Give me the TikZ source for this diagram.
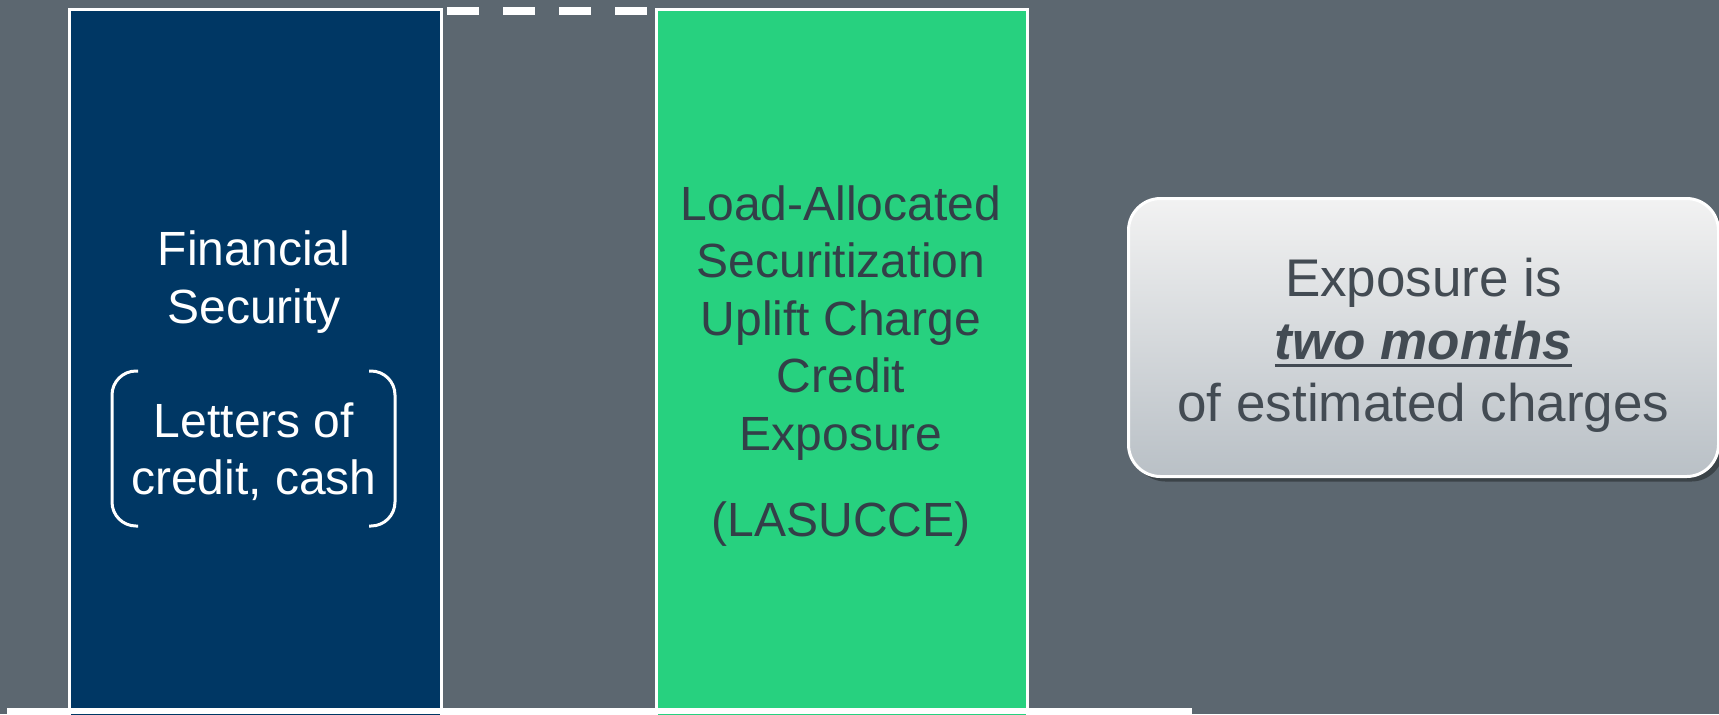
\documentclass[tikz,border=0pt]{standalone}
\usepackage{fontspec}
\setmainfont{Liberation Sans}
\usepackage{tikz}
\usetikzlibrary{positioning,shadows}
\definecolor{slategray}{HTML}{5C6770}
\definecolor{navyblue}{HTML}{003764}
\definecolor{brightgreen}{HTML}{27D17F}
\definecolor{darktext}{HTML}{333F48}
\definecolor{calltext}{HTML}{434B53}
\definecolor{calltop}{HTML}{F2F2F2}
\definecolor{callbottom}{HTML}{B9C0C6}
\newcommand{\thickul}[1]{\setbox0\hbox{#1}%
  \rlap{\raisebox{-4pt}{\rule{\wd0}{1.8pt}}}\box0}

\begin{document}
\begin{tikzpicture}[x=0.5pt,y=-0.5pt,
  column/.style={draw=white,line width=1.5pt,minimum width=186pt,
    minimum height=360pt,anchor=north west,inner sep=0pt},
  bigtext/.style={align=center,font=\fontsize{24}{28.75}\selectfont},
  calltextstyle/.style={align=center,text=calltext,
    font=\fontsize{26.5}{31.25}\selectfont},
  bracket/.style={white,line width=1.5pt,rounded corners=12pt}]
  \fill[slategray] (0,0) rectangle (1719,714);
  \path[use as bounding box] (0,0) rectangle (1719,714);
  \clip (0,0) rectangle (1719,714);

  % the two columns
  \node[column,fill=navyblue] (fin) at (68,8) {};
  \node[column,fill=brightgreen,minimum width=185.5pt] (lasucce) at (655,8) {};
  \draw[white,line width=4pt,dash pattern=on 16pt off 12pt,shorten <=2pt]
    ([yshift=-1.5pt]fin.north east) -- ([yshift=-1.5pt]lasucce.north west);

  % financial security
  \node[bigtext,text=white] (fintext) at (254,282) {Financial\\Security};
  \node[bigtext,text=white,below=27.5pt of fintext] (loc)
    {Letters of\\credit, cash};
  \draw[bracket] (138,371) -- (112,371) -- (112,526) -- (138,526);
  \draw[bracket] (369,371) -- (395,371) -- (395,526) -- (369,526);

  % LASUCCE
  \node[bigtext,text=darktext] (lasuccetext) at (841,323)
    {Load-Allocated\\Securitization\\Uplift Charge\\Credit\\Exposure};
  \node[bigtext,text=darktext,below=13.75pt of lasuccetext] (abbr) {(LASUCCE)};

  % exposure callout
  \node[draw=white,line width=1.5pt,rounded corners=16pt,anchor=north west,
    minimum width=295pt,minimum height=139pt,top color=calltop,
    bottom color=callbottom,
    drop shadow={shadow xshift=2.5pt,shadow yshift=-2.5pt,opacity=0.35,fill=black}]
    (expo) at (1127,197) {};
  \node[calltextstyle] (expotext) at ([yshift=-4pt]expo.center)
    {Exposure is\\\thickul{\textbf{\textit{two months}}}\\of estimated charges};

  % ground line
  \fill[white] (7,708) rectangle (1192,714);
\end{tikzpicture}
\end{document}
